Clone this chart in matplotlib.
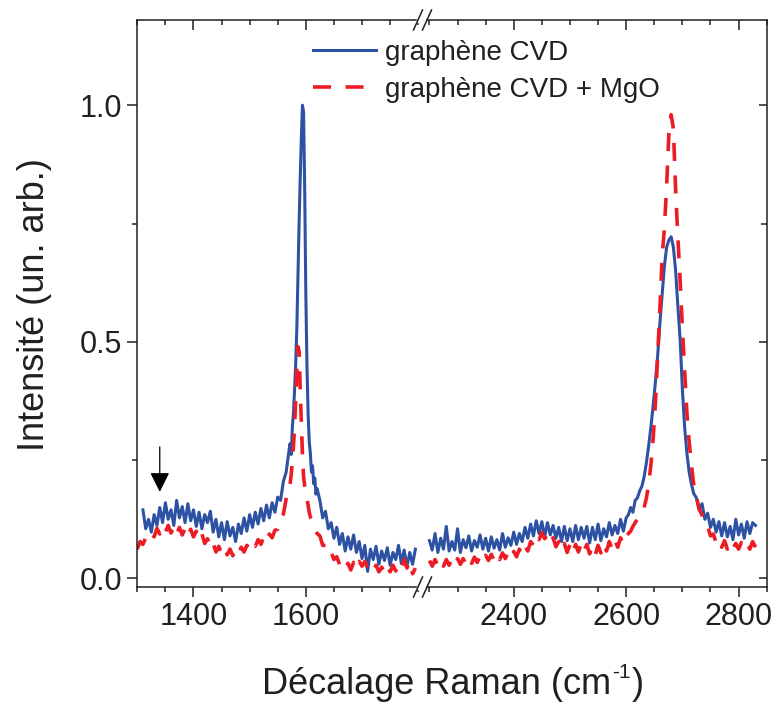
import numpy as np
import matplotlib.pyplot as plt
from matplotlib.lines import Line2D
from matplotlib.patches import Rectangle
from matplotlib.ticker import MultipleLocator, FixedLocator, FormatStrFormatter

plt.rcParams['font.family'] = ['Liberation Sans', 'DejaVu Sans']

TXT = '#231f20'
BLUE = '#2d52a3'
RED = '#ed1c24'

# ---- spectra (Raman shift in cm-1, intensity arb. units) ----
# G band window (left panel)
blue_g_x = np.concatenate([np.arange(1310, 1571, 5), np.arange(1572, 1621, 2), np.arange(1625, 1796, 5)])
blue_g = [
    0.145, 0.105, 0.125, 0.098, 0.135, 0.112, 0.150, 0.118, 0.160, 0.125,
    0.145, 0.112, 0.165, 0.128, 0.152, 0.118, 0.158, 0.122, 0.145, 0.110,
    0.140, 0.105, 0.135, 0.118, 0.142, 0.098, 0.125, 0.088, 0.118, 0.082,
    0.120, 0.090, 0.108, 0.078, 0.115, 0.095, 0.128, 0.100, 0.135, 0.108,
    0.140, 0.115, 0.148, 0.122, 0.155, 0.128, 0.160, 0.140, 0.172, 0.165,
    0.205, 0.225, 0.270,
    0.285, 0.262, 0.320, 0.350, 0.400, 0.455, 0.530, 0.640, 0.750, 0.845,
    0.930, 1.000, 0.985, 0.820, 0.600, 0.450, 0.350, 0.290, 0.265, 0.225,
    0.238, 0.200, 0.212, 0.178, 0.190,
    0.165, 0.128, 0.142, 0.105, 0.118, 0.085, 0.108, 0.072, 0.095, 0.058,
    0.088, 0.062, 0.092, 0.055, 0.078, 0.042, 0.070, 0.015, 0.062, 0.040,
    0.068, 0.030, 0.058, 0.038, 0.065, 0.028, 0.055, 0.040, 0.070, 0.032,
    0.060, 0.025, 0.055, 0.030, 0.062,
]

red_g_x = np.concatenate([np.arange(1300, 1571, 5), np.arange(1572, 1621, 2), np.arange(1625, 1796, 5)])
red_g = [
    0.062, 0.078, 0.072, 0.086, 0.080, 0.094, 0.088, 0.106, 0.094, 0.110,
    0.098, 0.112, 0.096, 0.110, 0.094, 0.108, 0.092, 0.106, 0.090, 0.104,
    0.088, 0.100, 0.082, 0.094, 0.074, 0.084, 0.064, 0.074, 0.056, 0.068,
    0.052, 0.064, 0.050, 0.062, 0.048, 0.062, 0.052, 0.066, 0.056, 0.070,
    0.062, 0.076, 0.068, 0.082, 0.072, 0.088, 0.078, 0.094, 0.086, 0.102,
    0.104, 0.126, 0.136, 0.168, 0.186,
    0.200, 0.220, 0.250, 0.280, 0.320, 0.380, 0.440, 0.490, 0.480, 0.400,
    0.330, 0.260, 0.215, 0.195, 0.180, 0.168, 0.155, 0.140, 0.130, 0.125,
    0.118, 0.112, 0.108, 0.100, 0.095,
    0.090, 0.070, 0.070, 0.052, 0.056, 0.040, 0.046, 0.030, 0.036, 0.022,
    0.032, 0.018, 0.034, 0.020, 0.036, 0.026, 0.036, 0.022, 0.030, 0.018,
    0.028, 0.014, 0.024, 0.012, 0.026, 0.014, 0.028, 0.016, 0.030, 0.020,
    0.040, 0.022, 0.036, 0.010, 0.022,
]

# 2D band window (right panel)
d_x = np.concatenate([np.arange(2250, 2601, 5), np.arange(2604, 2721, 4), np.arange(2725, 2831, 5)])
blue_2d = [
    0.080, 0.060, 0.095, 0.055, 0.085, 0.062, 0.110, 0.058, 0.078, 0.060,
    0.105, 0.055, 0.082, 0.065, 0.090, 0.058, 0.080, 0.066, 0.092, 0.062,
    0.085, 0.058, 0.088, 0.064, 0.082, 0.060, 0.095, 0.066, 0.086, 0.070,
    0.098, 0.072, 0.095, 0.078, 0.108, 0.085, 0.115, 0.090, 0.122, 0.095,
    0.120, 0.088, 0.118, 0.092, 0.112, 0.085, 0.108, 0.078, 0.110, 0.080,
    0.105, 0.078, 0.112, 0.082, 0.108, 0.085, 0.110, 0.075, 0.108, 0.082,
    0.115, 0.080, 0.105, 0.088, 0.118, 0.092, 0.112, 0.095, 0.125, 0.100,
    0.128,
    0.135, 0.150, 0.140, 0.165, 0.170, 0.185, 0.195, 0.215, 0.245, 0.280,
    0.320, 0.365, 0.415, 0.470, 0.540, 0.600, 0.660, 0.700, 0.715, 0.722,
    0.700, 0.650, 0.575, 0.505, 0.400, 0.320, 0.265, 0.225, 0.200, 0.180,
    0.170, 0.145, 0.158, 0.125, 0.138, 0.108, 0.125, 0.098, 0.120, 0.090,
    0.118, 0.088, 0.110, 0.082, 0.125, 0.092, 0.115, 0.085, 0.120, 0.095,
    0.118, 0.112,
]
red_2d = [
    0.038, 0.026, 0.040, 0.027, 0.039, 0.026, 0.040, 0.028, 0.041, 0.029,
    0.042, 0.030, 0.042, 0.031, 0.044, 0.032, 0.045, 0.034, 0.047, 0.036,
    0.049, 0.038, 0.051, 0.039, 0.052, 0.040, 0.054, 0.042, 0.055, 0.043,
    0.057, 0.046, 0.062, 0.050, 0.068, 0.058, 0.078, 0.070, 0.090, 0.082,
    0.097, 0.084, 0.093, 0.076, 0.086, 0.067, 0.078, 0.060, 0.074, 0.055,
    0.072, 0.054, 0.072, 0.056, 0.074, 0.057, 0.072, 0.052, 0.068, 0.050,
    0.070, 0.054, 0.074, 0.058, 0.078, 0.062, 0.081, 0.066, 0.086, 0.072,
    0.090,
    0.095, 0.100, 0.110, 0.118, 0.125, 0.130, 0.140, 0.150, 0.170, 0.200,
    0.240, 0.295, 0.370, 0.470, 0.570, 0.680, 0.740, 0.830, 0.940, 0.980,
    0.950, 0.820, 0.720, 0.630, 0.530, 0.440, 0.350, 0.290, 0.240, 0.200,
    0.172, 0.146, 0.134, 0.112, 0.110, 0.090, 0.094, 0.076, 0.084, 0.066,
    0.080, 0.062, 0.076, 0.064, 0.074, 0.062, 0.076, 0.064, 0.074, 0.062,
    0.078, 0.066,
]

labels = ['graphène CVD', 'graphène CVD + MgO']

W, H = 776, 706
fig = plt.figure(figsize=(W / 100, H / 100), dpi=100)


def px_box(x0, x1, y0, y1):
    return [x0 / W, 1 - y1 / H, (x1 - x0) / W, (y1 - y0) / H]


ax1 = fig.add_axes(px_box(137.3, 421, 20, 587))
ax2 = fig.add_axes(px_box(421, 766.7, 20, 587))
ax1.set_xlim(1300, 1805)
ax2.set_xlim(2235, 2850)
ax1.xaxis.set_major_locator(FixedLocator([1400, 1600]))
ax2.xaxis.set_major_locator(FixedLocator([2400, 2600, 2800]))

dash = (5, 4)
for ax, bx, by, rx, ry in [(ax1, blue_g_x, blue_g, red_g_x, red_g),
                           (ax2, d_x, blue_2d, d_x, red_2d)]:
    ax.plot(bx, by, color=BLUE, lw=2.2, solid_joinstyle='round')
    ax.plot(rx, ry, color=RED, lw=2.6, dashes=dash)
    ax.set_ylim(-0.018, 1.18)
    ax.yaxis.set_major_locator(FixedLocator([0.0, 0.5, 1.0]))
    ax.yaxis.set_minor_locator(FixedLocator([0.25, 0.75]))
    ax.xaxis.set_minor_locator(MultipleLocator(50))
    for s in ax.spines.values():
        s.set_linewidth(1.1)
        s.set_color(TXT)
    ax.spines['top'].set_visible(False)
    # top ticks point inwards, bottom ones outwards
    top = ax.secondary_xaxis('top')
    top.xaxis.set_major_locator(ax.xaxis.get_major_locator())
    top.xaxis.set_minor_locator(MultipleLocator(50))
    top.tick_params(which='both', direction='in', labeltop=False, width=1.1, color=TXT)
    top.tick_params(which='major', length=7)
    top.tick_params(which='minor', length=3.5)
    top.spines['top'].set_linewidth(1.1)
    top.spines['top'].set_color(TXT)
    ax.tick_params(axis='x', which='both', direction='out', width=1.1, color=TXT,
                   labelsize=22, labelcolor=TXT, pad=4)
    ax.tick_params(axis='x', which='major', length=7)
    ax.tick_params(axis='x', which='minor', length=3.5)

ax1.spines['right'].set_visible(False)
ax2.spines['left'].set_visible(False)
ax1.tick_params(axis='y', which='both', direction='out', right=False, width=1.1, color=TXT,
                labelsize=22, labelcolor=TXT, pad=4)
ax1.tick_params(axis='y', which='major', length=7)
ax1.tick_params(axis='y', which='minor', length=3.5)
ax1.yaxis.set_major_formatter(FormatStrFormatter('%.1f'))
ax2.tick_params(axis='y', which='both', direction='in', left=False, right=True,
                labelleft=False, width=1.1, color=TXT)
ax2.tick_params(axis='y', which='major', length=6)
ax2.tick_params(axis='y', which='minor', length=4)

# arrow marking the weak D band position
ax1.annotate('', xy=(1340, 0.183), xytext=(1340, 0.278),
             arrowprops=dict(arrowstyle='-|>,head_width=0.6,head_length=1.2',
                             color='black', lw=0.9, mutation_scale=10, shrinkA=0, shrinkB=0))

# axis break marks
for yb in (20, 587):
    fig.add_artist(Rectangle((417 / W, 1 - (yb + 1.5) / H), 8 / W, 3 / H,
                             transform=fig.transFigure, color='white', zorder=10))
    for xs in (413.5, 422.5):
        fig.add_artist(Line2D([xs / W, (xs + 9) / W], [1 - (yb + 10) / H, 1 - (yb - 10) / H],
                              transform=fig.transFigure, color=TXT, lw=1.1, zorder=11))

# legend
handles = [Line2D([], [], color=BLUE, lw=2.2), Line2D([], [], color=RED, lw=2.6, dashes=dash)]
fig.legend(handles, labels, loc='upper left', bbox_to_anchor=(313 / W, 1 - 40 / H),
           frameon=False, fontsize=20, handlelength=2.25, handletextpad=0.35,
           labelspacing=0.4, borderpad=0, borderaxespad=0, labelcolor=TXT)

# x label with a small "-1" superscript, assembled piece by piece
fig.canvas.draw()
r = fig.canvas.get_renderer()
yl = 1 - 685 / H
t1 = fig.text(0, yl, 'Décalage Raman (cm', fontsize=26, color=TXT, va='center')
t2 = fig.text(0, yl + 12 / H, '-1', fontsize=15, color=TXT, va='center')
t3 = fig.text(0, yl, ')', fontsize=26, color=TXT, va='center')
w1 = t1.get_window_extent(r).width
w2 = t2.get_window_extent(r).width
w3 = t3.get_window_extent(r).width
x0 = 452 - (w1 + w2 + w3) / 2
t1.set_x(x0 / W)
t2.set_x((x0 + w1 + 1) / W)
t3.set_x((x0 + w1 + w2 + 2) / W)

fig.text(35 / W, 1 - 305 / H, 'Intensité (un. arb.)', fontsize=26, color=TXT,
         ha='center', va='center', rotation=90)

fig.savefig('out.png', dpi=100)
